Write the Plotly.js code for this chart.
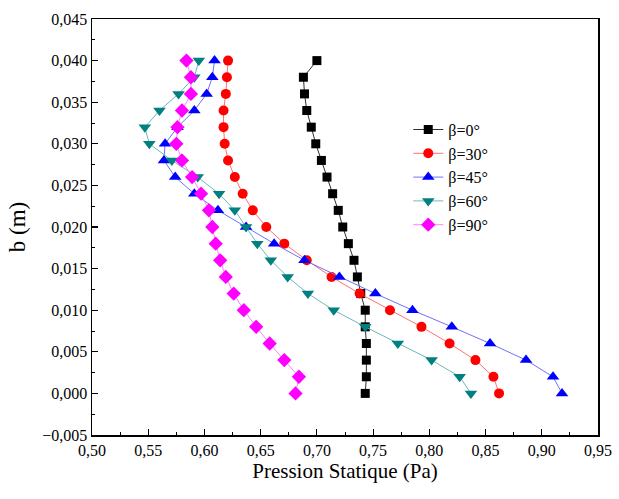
<!DOCTYPE html>
<html>
<head>
<meta charset="utf-8">
<script src="https://cdn.plot.ly/plotly-3.0.1.min.js"></script>
<style>html,body{margin:0;padding:0;background:#fff;}#chart{width:619px;height:499px;}</style>
</head>
<body>
<div id="chart"></div>
<script>
// b (m) positions
const bValues = [0.000,0.002,0.004,0.006,0.008,0.010,0.012,0.014,0.016,0.018,0.020,0.022,0.024,0.026,0.028,0.030,0.032,0.034,0.036,0.038,0.040];
// Pression Statique (Pa) for each beta
const p0  = [0.743,0.744,0.744,0.744,0.743,0.743,0.739,0.736,0.733,0.728,0.723,0.719,0.714,0.709,0.704,0.699,0.695,0.691,0.689,0.688,0.700];
const p30 = [0.862,0.857,0.841,0.818,0.793,0.765,0.738,0.713,0.691,0.671,0.655,0.643,0.634,0.627,0.621,0.618,0.617,0.617,0.619,0.620,0.621];
const p45 = [0.918,0.910,0.886,0.854,0.820,0.785,0.752,0.720,0.689,0.662,0.637,0.612,0.591,0.574,0.564,0.565,0.576,0.591,0.602,0.607,0.609];
const p60 = [0.837,0.827,0.802,0.772,0.743,0.715,0.692,0.674,0.659,0.647,0.637,0.627,0.613,0.594,0.571,0.551,0.547,0.560,0.577,0.591,0.595];
const p90 = [0.681,0.684,0.671,0.658,0.646,0.635,0.626,0.619,0.614,0.610,0.607,0.604,0.597,0.589,0.580,0.575,0.576,0.580,0.588,0.588,0.584];
const seriesNames = ["β=0°","β=30°","β=45°","β=60°","β=90°"];

const series = [p0,p30,p45,p60,p90];
const markerColors = ["#000000","#ff0000","#0000ff","#008080","#ff00ff"];
const lineColors = ["#303030","#ff7070","#7070ff","#70b8b8","#ff80ff"];
const symbols = ["square","circle","triangle-up","triangle-down","diamond"];
const sizes = [9,10,11,11,11];

const traces = series.map((xs,i)=>({
  x: xs, y: bValues, type:'scatter', mode:'lines+markers', name: seriesNames[i],
  line:{color: lineColors[i], width:1},
  marker:{color: markerColors[i], symbol: symbols[i], size: sizes[i], line:{width:0}}
}));

const font = 'Liberation Serif';
const layout = {
  width:619, height:499,
  margin:{l:92, r:21, t:19, b:64},
  paper_bgcolor:'#fff', plot_bgcolor:'#fff',
  separators:', ',
  font:{family:font, color:'#000', size:16},
  showlegend:true,
  legend:{x:0.625, y:0.775, xanchor:'left', yanchor:'top', font:{family:font, size:16, color:'#000'}, bgcolor:'rgba(0,0,0,0)', tracegroupgap:0},
  xaxis:{range:[0.50,0.95], dtick:0.05, tick0:0.5, tickformat:'.2f', ticks:'inside', ticklen:6, tickwidth:1.2, tickcolor:'#000',
    minor:{dtick:0.025, ticks:'inside', ticklen:3, tickcolor:'#000', tickwidth:1},
    showline:true, mirror:true, linecolor:'#000', linewidth:1.5, showgrid:false, zeroline:false,
    tickfont:{family:font, size:16, color:'#000'},
    title:{text:'Pression Statique (Pa)', font:{family:font, size:21, color:'#000'}, standoff:5}},
  yaxis:{range:[-0.005,0.045], dtick:0.005, tick0:0, tickformat:'.3f', ticks:'inside', ticklen:6, tickwidth:1.2, tickcolor:'#000',
    minor:{dtick:0.0025, ticks:'inside', ticklen:3, tickcolor:'#000', tickwidth:1},
    showline:true, mirror:true, linecolor:'#000', linewidth:1.5, showgrid:false, zeroline:false,
    tickfont:{family:font, size:16, color:'#000'},
    title:{text:'b (m)', font:{family:font, size:23, color:'#000'}, standoff:10}}
};
Plotly.newPlot('chart', traces, layout, {displayModeBar:false, staticPlot:true});
</script>
</body>
</html>
